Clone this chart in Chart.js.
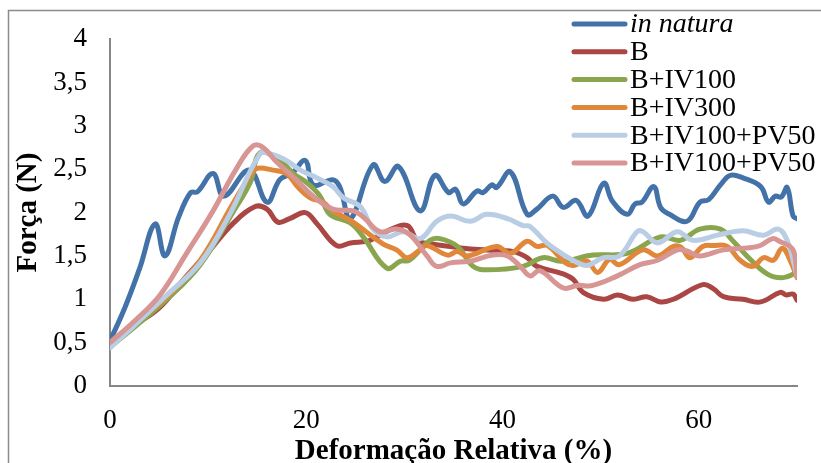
<!DOCTYPE html>
<html>
<head>
<meta charset="utf-8">
<script src="https://cdn.jsdelivr.net/npm/chart.js@4.4.1/dist/chart.umd.min.js"></script>
<style>
  html, body { margin: 0; padding: 0; background: #fff; }
  #wrap { width: 821px; height: 463px; position: relative; }
</style>
</head>
<body>
<div id="wrap"><canvas id="forceChart" width="821" height="463"></canvas></div>
<script>
// force vs relative deformation, one [x, y] list per sample
const seriesNames = ['in natura', 'B', 'B+IV100', 'B+IV300', 'B+IV100+PV50', 'B+IV100+PV50'];
const seriesColors = ['#4372a9', '#aa4643', '#89a54e', '#e0873a', '#b9cde5', '#d79594'];

const inNatura = [[0,0.52],[1.5,0.9],[3,1.35],[4.6,1.87],[5.6,1.5],[7,1.95],[8.2,2.23],[8.9,2.24],[10.5,2.45],[11.6,2.19],
  [14.2,2.49],[16,2.12],[17.3,2.38],[18.5,2.45],[19.9,2.6],[20.7,2.32],[22.7,2.38],[23.4,2.3],[24.5,1.93],[26.8,2.55],
  [28,2.36],[29.4,2.53],[31.6,2.02],[33.1,2.43],[34.5,2.23],[35.2,2.27],[36,2.1],[37.4,2.25],[38,2.23],[38.9,2.32],
  [39.4,2.29],[40.8,2.47],[42.5,1.98],[43.5,2.04],[45.1,2.19],[46.2,2.06],[47.5,2.14],[48.7,1.96],[50.3,2.34],[51.2,2.13],
  [52.7,1.98],[53.5,2.1],[54.2,2.12],[55.4,2.3],[56.1,2.06],[57,1.98],[58.8,1.9],[60.1,2.12],[61,2.15],[62.2,2.32],
  [63.2,2.43],[64.5,2.4],[66.3,2.3],[67.1,2.12],[67.8,2.19],[68.4,2.18],[69,2.29],[69.6,1.96],[70,1.93]];

const amostraB = [[0,0.5],[2.5,0.7],[5.1,0.91],[7.5,1.23],[10.2,1.57],[12.5,1.87],[14.8,2.07],[16,2.04],[17.1,1.89],[18.3,1.93],
  [19.9,2.0],[21.1,1.87],[23.1,1.62],[24.5,1.65],[26.5,1.68],[28.5,1.8],[30.3,1.85],[31.3,1.68],[32.6,1.64],[36,1.59],
  [38.4,1.57],[41.1,1.55],[42.5,1.48],[43.5,1.38],[46,1.3],[47.2,1.23],[48.2,1.08],[50.3,1.0],[51.7,1.05],[53.3,1.0],
  [54.7,1.03],[56.1,0.97],[57.4,1.0],[60.4,1.17],[61.5,1.12],[62.5,1.03],[64.5,1.0],[66.3,0.97],[68.3,1.08],[68.9,1.05],
  [69.6,1.06],[70,0.99]];

const amostraIV100 = [[0,0.45],[2.5,0.68],[5.8,1.0],[9.2,1.4],[12.5,2.0],[14.3,2.35],[15.3,2.69],[17.3,2.6],[18.7,2.45],[20.1,2.34],
  [21.4,2.19],[22.4,1.98],[24.5,1.88],[25.8,1.72],[28.2,1.36],[29.6,1.44],[30.5,1.45],[32.6,1.68],[33.6,1.7],[35.4,1.61],
  [37,1.38],[38.4,1.34],[42.1,1.38],[44.1,1.48],[46,1.44],[49.2,1.51],[52.7,1.53],[56.1,1.72],[58.1,1.68],[60.1,1.81],
  [62.2,1.81],[63.5,1.67],[64.9,1.5],[67,1.29],[68.6,1.25],[70,1.31]];

const amostraIV300 = [[0,0.48],[2.5,0.72],[5.8,1.03],[9.2,1.45],[12.5,2.1],[14.3,2.43],[15,2.51],[16.6,2.49],[18,2.45],[19.1,2.3],
  [20.4,2.17],[21.7,2.12],[22.7,2.02],[24.5,1.91],[27.8,1.64],[29.2,1.57],[30.3,1.48],[31.6,1.57],[32.3,1.62],[34.4,1.51],
  [35.4,1.55],[36.4,1.5],[39.4,1.61],[40.8,1.53],[42.5,1.67],[43.5,1.61],[44.6,1.62],[46.4,1.42],[47.2,1.39],[48.6,1.44],
  [49.7,1.31],[50.9,1.46],[51.9,1.4],[54.3,1.57],[55.8,1.5],[57.4,1.61],[58.2,1.6],[59.1,1.48],[60.4,1.61],[61.5,1.62],
  [62.9,1.61],[64.2,1.45],[65.5,1.38],[66.6,1.48],[67.6,1.45],[68.5,1.59],[69.3,1.45],[70,1.25]];

const amostraPV50a = [[0,0.44],[2.5,0.7],[5.8,1.05],[9.2,1.42],[12.2,1.98],[15.3,2.68],[16.3,2.68],[18,2.6],[19.4,2.49],[21.1,2.4],
  [22.7,2.3],[23.8,2.17],[25.5,2.07],[26.8,1.81],[28.2,1.72],[29.9,1.78],[31.6,1.7],[33.3,1.9],[34.7,1.96],[36.7,1.9],
  [38.4,1.98],[40.5,1.93],[42.1,1.85],[42.8,1.84],[44.5,1.65],[46,1.53],[47.7,1.42],[48.6,1.39],[50.3,1.48],[51.9,1.5],
  [53.7,1.78],[54.3,1.78],[55.8,1.65],[57.8,1.78],[59.4,1.68],[61.9,1.74],[64.5,1.79],[66.6,1.74],[68.1,1.81],[69,1.68],
  [69.6,1.45],[70,1.27]];

const amostraPV50b = [[0,0.5],[2.5,0.75],[5.1,1.05],[7.8,1.53],[10.5,2.02],[12.9,2.51],[14.6,2.77],[15.6,2.75],[17,2.58],[18.7,2.41],
  [20.7,2.19],[22.7,2.04],[24.8,2.02],[25.8,1.95],[27.5,1.78],[29.2,1.81],[30.6,1.74],[32.3,1.5],[33.3,1.38],[34.7,1.42],
  [36.7,1.44],[39,1.51],[40.5,1.5],[41.8,1.38],[42.8,1.27],[43.8,1.33],[46.2,1.13],[47.6,1.16],[49.2,1.16],[51.7,1.27],
  [54,1.4],[55.8,1.45],[57.8,1.57],[58.7,1.56],[60.1,1.5],[62.5,1.57],[66,1.61],[67.5,1.7],[68.2,1.67],[69.6,1.57],[70,1.27]];

const allSeries = [inNatura, amostraB, amostraIV100, amostraIV300, amostraPV50a, amostraPV50b];

const serif = "'Liberation Serif', 'Times New Roman', serif";

// outer frame around the whole chart
const framePlugin = {
  id: 'frame',
  beforeDraw(chart) {
    const ctx = chart.ctx;
    ctx.save();
    ctx.strokeStyle = '#8c8c8c';
    ctx.lineWidth = 1.5;
    ctx.strokeRect(8.5, 10.5, 900, 600);
    ctx.restore();
  }
};

// legend sits over the top-right corner of the plot
const legendPlugin = {
  id: 'floatLegend',
  afterDraw(chart) {
    const ctx = chart.ctx;
    ctx.save();
    chart.data.datasets.forEach((ds, i) => {
      const y = 24 + i * 27.8;
      ctx.strokeStyle = ds.borderColor;
      ctx.lineWidth = 5;
      ctx.lineCap = 'round';
      ctx.beginPath();
      ctx.moveTo(574, y);
      ctx.lineTo(625, y);
      ctx.stroke();
      ctx.fillStyle = '#000';
      ctx.textBaseline = 'middle';
      ctx.textAlign = 'left';
      ctx.font = (i === 0 ? 'italic ' : '') + '28px ' + serif;
      ctx.fillText(ds.label, 630, y + 1);
    });
    ctx.restore();
  }
};

new Chart(document.getElementById('forceChart'), {
  type: 'line',
  data: {
    datasets: allSeries.map((pts, i) => ({
      label: seriesNames[i],
      data: pts.map(p => ({ x: p[0], y: p[1] })),
      borderColor: seriesColors[i],
      backgroundColor: seriesColors[i],
      borderWidth: 5,
      borderCapStyle: 'round',
      borderJoinStyle: 'round',
      pointRadius: 0,
      tension: 0.4,
      fill: false,
      order: allSeries.length - i
    }))
  },
  options: {
    responsive: false,
    animation: false,
    layout: { padding: { left: 0, top: 31, right: 24, bottom: 0 } },
    plugins: {
      legend: { display: false },
      tooltip: { enabled: false }
    },
    scales: {
      x: {
        type: 'linear',
        min: 0,
        max: 70,
        afterFit(scale) { scale.height = 77; },
        afterBuildTicks(scale) {
          scale.ticks = [0, 20, 40, 60].map(v => ({ value: v }));
        },
        grid: { display: false, drawTicks: false },
        border: { display: true, color: '#868686', width: 2 },
        ticks: {
          padding: 19,
          color: '#000',
          font: { family: serif, size: 27 }
        },
        title: {
          display: true,
          text: 'Deformação Relativa (%)',
          color: '#000',
          font: { family: serif, size: 29, weight: 'bold', lineHeight: 0.8 },
          padding: { top: 0, bottom: 0 }
        }
      },
      y: {
        min: 0,
        max: 4,
        afterFit(scale) { scale.width = 110; },
        grid: { display: false, drawTicks: false },
        border: { display: true, color: '#868686', width: 2 },
        ticks: {
          stepSize: 0.5,
          padding: 23,
          color: '#000',
          font: { family: serif, size: 27 },
          callback: v => String(v).replace('.', ',')
        },
        title: {
          display: true,
          text: 'Força (N)',
          color: '#000',
          font: { family: serif, size: 29, weight: 'bold', lineHeight: 1.2 },
          padding: { top: 11, bottom: 0 }
        }
      }
    }
  },
  plugins: [framePlugin, legendPlugin]
});
</script>
</body>
</html>
